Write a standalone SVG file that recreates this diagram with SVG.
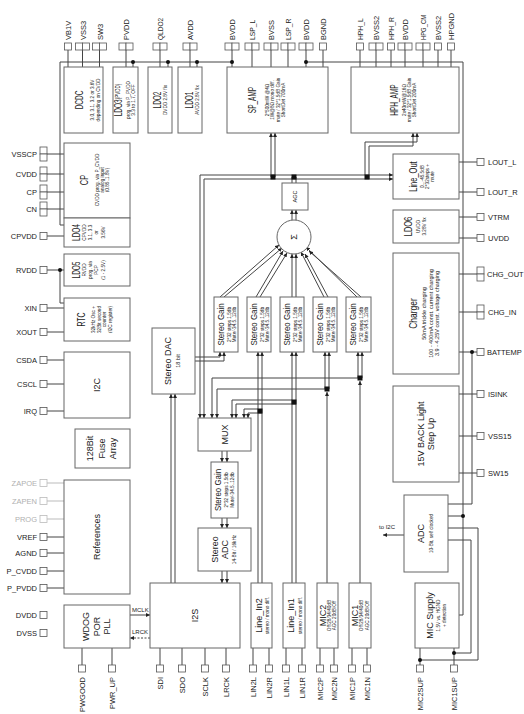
<svg xmlns="http://www.w3.org/2000/svg" width="524" height="714" viewBox="0 0 524 714">
<defs>
<marker id="ah" viewBox="0 0 6 6" refX="6" refY="3" markerWidth="4" markerHeight="4" orient="auto" markerUnits="userSpaceOnUse"><path d="M0,0L6,3L0,6z" fill="#222"/></marker>
</defs>
<style>
text{font-family:"Liberation Sans",Arial,sans-serif;fill:#1a1a1a}
.pl{font-size:7.5px}
.pe{font-size:7.5px;text-anchor:end}
.gr{fill:#b0b0b0}
.ti{font-size:10px;text-anchor:middle;dominant-baseline:central}
.tm{font-size:9px;text-anchor:middle;dominant-baseline:central}
.de{font-size:5.5px;text-anchor:middle;dominant-baseline:central}
.sm{font-size:6px}
.box{fill:#fff;stroke:#666;stroke-width:1}
.pin{fill:#fff;stroke:#555;stroke-width:0.8}
.pg{fill:#fff;stroke:#bbb;stroke-width:0.8}
.w{fill:none;stroke:#444;stroke-width:1}
.wg{fill:none;stroke:#bbb;stroke-width:1}
.a{marker-end:url(#ah)}
.d{fill:#111}
</style>
<rect width="524" height="714" fill="#fff"/>

<g id="connectors">
<path class="w" d="M60,62H232M60,62V225H64M306,62H463V615H459"/>
<path class="w" d="M68,50V67M82.5,50V67M99.5,50V67M126,50V67M133,62V67M160,50V67M168,62V67M190,50V67M197,62V67M232,50V67M252,50V67M271,50V67M288,50V67M306,50V67M323,50V67"/>
<path class="w" d="M360,50V67M376,50V67M391,50V67M405,50V67M423,50V67M438,50V67M451,50V67"/>
<circle class="d" cx="133" cy="62" r="2"/><circle class="d" cx="168" cy="62" r="2"/><circle class="d" cx="197" cy="62" r="2"/><circle class="d" cx="232" cy="62" r="2"/><circle class="d" cx="306" cy="62" r="2"/>
<path class="w" d="M47,154H64M47,174H64M47,192H64M47,209H64M47,236H64M47,270H64M60,270V303H64M47,308H64M47,332H64M47,360H64M47,384H64M47,411H64M47,537H64M47,553H64M47,571H64M47,588H64"/>
<path class="wg" d="M47,483H64M47,501H64M47,519H64"/>
<circle class="d" cx="60" cy="270" r="2"/>
<path class="w" d="M459,162H477M459,192H477M459,217H477M459,238H477M459,352H477M472,352V504H448M459,394H477M459,436H477M459,473H477"/>
<path class="w" d="M477,274H452V287H449V300M445,288V299M449,303H452V312H477"/>
<circle class="d" cx="472" cy="352" r="2"/><circle class="d" cx="449" cy="301" r="1.6"/>
<path class="w" d="M448,516H463M448,528H478V660H420M448,540H471V653H454M420,648V665M454,648V665"/>
<circle class="d" cx="463" cy="516" r="2"/><circle class="d" cx="420" cy="660" r="2"/><circle class="d" cx="454" cy="653" r="2"/>
<path class="w a" d="M404,535H383"/>
<text class="sm" x="379" y="529">to I2C</text>
<path class="w" d="M82,648V665M112,648V665M160,648V665M182,648V665M205,648V665M226,648V665M253,648V665M269,648V665M286,648V665M302,648V665M320,648V665M334,648V665M352,648V665M367,648V665"/>
<path class="w a" d="M130,615H150"/>
<path class="w a" d="M150,638H130" stroke-dasharray="2,1.5"/>
<text class="sm" x="132" y="612">MCLK</text>
<text class="sm" x="132" y="634">LRCK</text>
<path class="w a" d="M273,175H200V418"/>
<path class="w a" d="M273,179H204V418"/>
<path class="w a" d="M273,175H393"/>
<path class="w a" d="M273,179H393"/>
<path class="w a" d="M271,177V133"/>
<path class="w a" d="M275,177V133"/>
<path class="w" d="M292,177V183M296,177V183"/>
<path class="w a" d="M365,175V142H417V133"/>
<path class="w a" d="M369,179V146H413V133"/>
<rect class="d" x="270.5" y="174.5" width="5" height="5"/>
<rect class="d" x="291.5" y="174.5" width="5" height="5"/>
<rect class="d" x="364.5" y="174.5" width="5" height="5"/>
<path class="w a" d="M292,220V210"/>
<path class="w a" d="M296,220V210"/>
<path class="w a" d="M220,297L279,245"/>
<path class="w a" d="M224,297L282,248"/>
<path class="w a" d="M256,297L283,251"/>
<path class="w a" d="M260,297L287,253"/>
<path class="w a" d="M292,297V254"/>
<path class="w a" d="M296,297V254"/>
<path class="w a" d="M324,297L301,252"/>
<path class="w a" d="M328,297L305,254"/>
<path class="w a" d="M357,297L306,247"/>
<path class="w a" d="M361,297L309,251"/>
<path class="w a" d="M195,357H220V352"/>
<path class="w a" d="M195,361H224V352"/>
<path class="w a" d="M171,583V394"/>
<path class="w a" d="M175,583V394"/>
<path class="w a" d="M258,583V352"/>
<path class="w a" d="M262,583V352"/>
<path class="w a" d="M292,583V352"/>
<path class="w a" d="M296,583V352"/>
<path class="w a" d="M327,583V392"/>
<path class="w a" d="M325,389V352"/>
<path class="w a" d="M329,389V352"/>
<path class="w a" d="M360,583V381"/>
<path class="w a" d="M358,378V352"/>
<path class="w a" d="M362,378V352"/>
<path class="w a" d="M258,409H244V418"/>
<path class="w a" d="M262,413H248V418"/>
<path class="w a" d="M292,400H232V418"/>
<path class="w a" d="M296,404H236V418"/>
<path class="w a" d="M327,389H217V418"/>
<path class="w a" d="M360,378H212V418"/>
<rect class="d" x="257.5" y="408.5" width="5" height="5"/>
<rect class="d" x="291.5" y="399.5" width="5" height="5"/>
<rect class="d" x="324.5" y="386.5" width="5" height="5"/>
<rect class="d" x="357.5" y="375.5" width="5" height="5"/>
<path class="w a" d="M222,451V462"/>
<path class="w a" d="M227,451V462"/>
<path class="w a" d="M222,518V528"/>
<path class="w a" d="M227,518V528"/>
<path class="w a" d="M222,571V583"/>
<path class="w a" d="M227,571V583"/>
</g>

<g id="pin-VB1V"><rect class="pin" x="64.5" y="43" width="7" height="7"/><text class="pl" transform="translate(71,40) rotate(-90)">VB1V</text></g>
<g id="pin-VSS3"><rect class="pin" x="75.5" y="43" width="7" height="7"/><rect class="pin" x="82.5" y="43" width="7" height="7"/><text class="pl" transform="translate(85.5,40) rotate(-90)">VSS3</text></g>
<g id="pin-SW3"><rect class="pin" x="92.5" y="43" width="7" height="7"/><rect class="pin" x="99.5" y="43" width="7" height="7"/><text class="pl" transform="translate(102.5,40) rotate(-90)">SW3</text></g>
<g id="pin-PVDD"><rect class="pin" x="119" y="43" width="7" height="7"/><rect class="pin" x="126" y="43" width="7" height="7"/><text class="pl" transform="translate(129,40) rotate(-90)">PVDD</text></g>
<g id="pin-QLDO2"><rect class="pin" x="153" y="43" width="7" height="7"/><rect class="pin" x="160" y="43" width="7" height="7"/><text class="pl" transform="translate(163,40) rotate(-90) scale(.87,1)">QLDO2</text></g>
<g id="pin-AVDD"><rect class="pin" x="183" y="43" width="7" height="7"/><rect class="pin" x="190" y="43" width="7" height="7"/><text class="pl" transform="translate(193,40) rotate(-90)">AVDD</text></g>
<g id="pin-BVDD-1"><rect class="pin" x="225" y="43" width="7" height="7"/><rect class="pin" x="232" y="43" width="7" height="7"/><text class="pl" transform="translate(235,40) rotate(-90)">BVDD</text></g>
<g id="pin-LSP_L"><rect class="pin" x="245" y="43" width="7" height="7"/><rect class="pin" x="252" y="43" width="7" height="7"/><text class="pl" transform="translate(255,40) rotate(-90) scale(.9,1)">LSP_L</text></g>
<g id="pin-BVSS"><rect class="pin" x="264" y="43" width="7" height="7"/><rect class="pin" x="271" y="43" width="7" height="7"/><text class="pl" transform="translate(274,40) rotate(-90)">BVSS</text></g>
<g id="pin-LSP_R"><rect class="pin" x="281" y="43" width="7" height="7"/><rect class="pin" x="288" y="43" width="7" height="7"/><text class="pl" transform="translate(291,40) rotate(-90) scale(.9,1)">LSP_R</text></g>
<g id="pin-BVDD-2"><rect class="pin" x="299" y="43" width="7" height="7"/><rect class="pin" x="306" y="43" width="7" height="7"/><text class="pl" transform="translate(309,40) rotate(-90)">BVDD</text></g>
<g id="pin-BGND"><rect class="pin" x="319.5" y="43" width="7" height="7"/><text class="pl" transform="translate(326,40) rotate(-90)">BGND</text></g>
<g id="pin-HPH_L"><rect class="pin" x="356.5" y="43" width="7" height="7"/><text class="pl" transform="translate(363,40) rotate(-90) scale(.9,1)">HPH_L</text></g>
<g id="pin-BVSS2-1"><rect class="pin" x="369" y="43" width="7" height="7"/><rect class="pin" x="376" y="43" width="7" height="7"/><text class="pl" transform="translate(379,40) rotate(-90)">BVSS2</text></g>
<g id="pin-HPH_R"><rect class="pin" x="387.5" y="43" width="7" height="7"/><text class="pl" transform="translate(394,40) rotate(-90) scale(.9,1)">HPH_R</text></g>
<g id="pin-BVDD-3"><rect class="pin" x="398" y="43" width="7" height="7"/><rect class="pin" x="405" y="43" width="7" height="7"/><text class="pl" transform="translate(408,40) rotate(-90)">BVDD</text></g>
<g id="pin-HPG_CM"><rect class="pin" x="416" y="43" width="7" height="7"/><rect class="pin" x="423" y="43" width="7" height="7"/><text class="pl" transform="translate(426,40) rotate(-90) scale(.78,1)">HPG_CM</text></g>
<g id="pin-BVSS2-2"><rect class="pin" x="434.5" y="43" width="7" height="7"/><text class="pl" transform="translate(441,40) rotate(-90)">BVSS2</text></g>
<g id="pin-HPGND"><rect class="pin" x="447.5" y="43" width="7" height="7"/><text class="pl" transform="translate(454,40) rotate(-90)">HPGND</text></g>

<g id="pin-VSSCP"><rect class="pin" x="40" y="147" width="7" height="7"/><rect class="pin" x="40" y="154" width="7" height="7"/><text class="pe" x="37" y="157">VSSCP</text></g>
<g id="pin-CVDD"><rect class="pin" x="40" y="167" width="7" height="7"/><rect class="pin" x="40" y="174" width="7" height="7"/><text class="pe" x="37" y="177">CVDD</text></g>
<g id="pin-CP"><rect class="pin" x="40" y="185" width="7" height="7"/><rect class="pin" x="40" y="192" width="7" height="7"/><text class="pe" x="37" y="195">CP</text></g>
<g id="pin-CN"><rect class="pin" x="40" y="202" width="7" height="7"/><rect class="pin" x="40" y="209" width="7" height="7"/><text class="pe" x="37" y="212">CN</text></g>
<g id="pin-CPVDD"><rect class="pin" x="40" y="232.5" width="7" height="7"/><text class="pe" x="37" y="239">CPVDD</text></g>
<g id="pin-RVDD"><rect class="pin" x="40" y="266.5" width="7" height="7"/><text class="pe" x="37" y="273">RVDD</text></g>
<g id="pin-XIN"><rect class="pin" x="40" y="304.5" width="7" height="7"/><text class="pe" x="37" y="311">XIN</text></g>
<g id="pin-XOUT"><rect class="pin" x="40" y="328.5" width="7" height="7"/><text class="pe" x="37" y="335">XOUT</text></g>
<g id="pin-CSDA"><rect class="pin" x="40" y="356.5" width="7" height="7"/><text class="pe" x="37" y="363">CSDA</text></g>
<g id="pin-CSCL"><rect class="pin" x="40" y="380.5" width="7" height="7"/><text class="pe" x="37" y="387">CSCL</text></g>
<g id="pin-IRQ"><rect class="pin" x="40" y="407.5" width="7" height="7"/><text class="pe" x="37" y="414">IRQ</text></g>
<g id="pin-ZAPOE"><rect class="pg" x="40" y="479.5" width="7" height="7"/><text class="pe gr" x="37" y="486">ZAPOE</text></g>
<g id="pin-ZAPEN"><rect class="pg" x="40" y="497.5" width="7" height="7"/><text class="pe gr" x="37" y="504">ZAPEN</text></g>
<g id="pin-PROG"><rect class="pg" x="40" y="515.5" width="7" height="7"/><text class="pe gr" x="37" y="522">PROG</text></g>
<g id="pin-VREF"><rect class="pin" x="40" y="533.5" width="7" height="7"/><text class="pe" x="37" y="540">VREF</text></g>
<g id="pin-AGND"><rect class="pin" x="40" y="549.5" width="7" height="7"/><text class="pe" x="37" y="556">AGND</text></g>
<g id="pin-P_CVDD"><rect class="pin" x="40" y="567.5" width="7" height="7"/><text class="pe" x="37" y="574">P_CVDD</text></g>
<g id="pin-P_PVDD"><rect class="pin" x="40" y="584.5" width="7" height="7"/><text class="pe" x="37" y="591">P_PVDD</text></g>
<g id="pin-DVDD"><rect class="pin" x="40" y="611.5" width="7" height="7"/><text class="pe" x="37" y="618">DVDD</text></g>
<g id="pin-DVSS"><rect class="pin" x="40" y="629.5" width="7" height="7"/><text class="pe" x="37" y="636">DVSS</text></g>

<g id="pin-LOUT_L"><rect class="pin" x="477" y="158.5" width="7" height="7"/><text class="pl" x="488" y="165">LOUT_L</text></g>
<g id="pin-LOUT_R"><rect class="pin" x="477" y="188.5" width="7" height="7"/><text class="pl" x="488" y="195">LOUT_R</text></g>
<g id="pin-VTRM"><rect class="pin" x="477" y="213.5" width="7" height="7"/><text class="pl" x="488" y="220">VTRM</text></g>
<g id="pin-UVDD"><rect class="pin" x="477" y="234.5" width="7" height="7"/><text class="pl" x="488" y="241">UVDD</text></g>
<g id="pin-CHG_OUT"><rect class="pin" x="477" y="267" width="7" height="7"/><rect class="pin" x="477" y="274" width="7" height="7"/><text class="pl" x="487" y="277" font-size="7.2">CHG_OUT</text></g>
<g id="pin-CHG_IN"><rect class="pin" x="477" y="305" width="7" height="7"/><rect class="pin" x="477" y="312" width="7" height="7"/><text class="pl" x="488" y="315">CHG_IN</text></g>
<g id="pin-BATTEMP"><rect class="pin" x="477" y="348.5" width="7" height="7"/><text class="pl" x="487" y="355" font-size="7.2">BATTEMP</text></g>
<g id="pin-ISINK"><rect class="pin" x="477" y="390.5" width="7" height="7"/><text class="pl" x="488" y="397">ISINK</text></g>
<g id="pin-VSS15"><rect class="pin" x="477" y="432.5" width="7" height="7"/><text class="pl" x="488" y="439">VSS15</text></g>
<g id="pin-SW15"><rect class="pin" x="477" y="469.5" width="7" height="7"/><text class="pl" x="488" y="476">SW15</text></g>

<g id="pin-PWGOOD"><rect class="pin" x="78.5" y="665" width="7" height="7"/><text class="pe" transform="translate(85,677) rotate(-90)">PWGOOD</text></g>
<g id="pin-PWR_UP"><rect class="pin" x="108.5" y="665" width="7" height="7"/><text class="pe" transform="translate(115,677) rotate(-90)">PWR_UP</text></g>
<g id="pin-SDI"><rect class="pin" x="156.5" y="665" width="7" height="7"/><text class="pe" transform="translate(163,677) rotate(-90)">SDI</text></g>
<g id="pin-SDO"><rect class="pin" x="178.5" y="665" width="7" height="7"/><text class="pe" transform="translate(185,677) rotate(-90)">SDO</text></g>
<g id="pin-SCLK"><rect class="pin" x="201.5" y="665" width="7" height="7"/><text class="pe" transform="translate(208,677) rotate(-90)">SCLK</text></g>
<g id="pin-LRCK"><rect class="pin" x="222.5" y="665" width="7" height="7"/><text class="pe" transform="translate(229,677) rotate(-90)">LRCK</text></g>
<g id="pin-LIN2L"><rect class="pin" x="249.5" y="665" width="7" height="7"/><text class="pe" transform="translate(256,677) rotate(-90)">LIN2L</text></g>
<g id="pin-LIN2R"><rect class="pin" x="265.5" y="665" width="7" height="7"/><text class="pe" transform="translate(272,677) rotate(-90)">LIN2R</text></g>
<g id="pin-LIN1L"><rect class="pin" x="282.5" y="665" width="7" height="7"/><text class="pe" transform="translate(289,677) rotate(-90)">LIN1L</text></g>
<g id="pin-LIN1R"><rect class="pin" x="298.5" y="665" width="7" height="7"/><text class="pe" transform="translate(305,677) rotate(-90)">LIN1R</text></g>
<g id="pin-MIC2P"><rect class="pin" x="316.5" y="665" width="7" height="7"/><text class="pe" transform="translate(323,677) rotate(-90)">MIC2P</text></g>
<g id="pin-MIC2N"><rect class="pin" x="330.5" y="665" width="7" height="7"/><text class="pe" transform="translate(337,677) rotate(-90)">MIC2N</text></g>
<g id="pin-MIC1P"><rect class="pin" x="348.5" y="665" width="7" height="7"/><text class="pe" transform="translate(355,677) rotate(-90)">MIC1P</text></g>
<g id="pin-MIC1N"><rect class="pin" x="363.5" y="665" width="7" height="7"/><text class="pe" transform="translate(370,677) rotate(-90)">MIC1N</text></g>
<g id="pin-MIC2SUP"><rect class="pin" x="416.5" y="665" width="7" height="7"/><text class="pe" transform="translate(423,677) rotate(-90)">MIC2SUP</text></g>
<g id="pin-MIC1SUP"><rect class="pin" x="450.5" y="665" width="7" height="7"/><text class="pe" transform="translate(457,677) rotate(-90)">MIC1SUP</text></g>

<g id="DCDC"><rect class="box" x="64" y="67" width="39" height="66"/>
<text class="ti" transform="translate(79,100) rotate(-90) scale(.65,1)">DCDC</text>
<text class="de" transform="translate(92,100) rotate(-90) scale(.85,1)">3.0, 3.1, 3.2 or 3.6V</text>
<text class="de" transform="translate(97.5,100) rotate(-90) scale(.85,1)">depending on CVDD</text></g>
<g id="LDO3"><rect class="box" x="113" y="67" width="25" height="66"/>
<text class="ti" transform="translate(118,100) rotate(-90) scale(.65,1)">LDO3<tspan font-size="7">(PVDD)</tspan></text>
<text class="de" transform="translate(127.5,100) rotate(-90) scale(.85,1)">prog. via P_PVDD</text>
<text class="de" transform="translate(133,100) rotate(-90) scale(.85,1)">3.3 to 1.7, OFF</text></g>
<g id="LDO2"><rect class="box" x="148" y="67" width="24" height="66"/>
<text class="ti" transform="translate(157,100) rotate(-90) scale(.65,1)">LDO2</text>
<text class="de" transform="translate(165,100) rotate(-90) scale(.85,1)">DVDD 2.8V fix</text></g>
<g id="LDO1"><rect class="box" x="178" y="67" width="24" height="66"/>
<text class="ti" transform="translate(189,100) rotate(-90) scale(.65,1)">LDO1</text>
<text class="de" transform="translate(197,100) rotate(-90) scale(.85,1)">AVDD 2.8V fix</text></g>
<g id="SP_AMP"><rect class="box" x="227" y="67" width="101" height="66"/>
<text class="ti" transform="translate(252,100) rotate(-90) scale(.65,1)">SP_AMP</text>
<text class="de" transform="translate(266.5,100) rotate(-90) scale(.85,1)">2*500mW @4Ω</text>
<text class="de" transform="translate(272,100) rotate(-90) scale(.85,1)">1W@8Ω mono diff.</text>
<text class="de" transform="translate(277.5,100) rotate(-90) scale(.85,1)">mute / 32*1.5dB Gain</text>
<text class="de" transform="translate(283,100) rotate(-90) scale(.85,1)">ShortDet 700mA</text></g>
<g id="HPH_AMP"><rect class="box" x="351" y="67" width="108" height="66"/>
<text class="ti" transform="translate(394,100) rotate(-90) scale(.65,1)">HPH_AMP</text>
<text class="de" transform="translate(404,100) rotate(-90) scale(.85,1)">2x40mW@16Ω</text>
<text class="de" transform="translate(409,100) rotate(-90) scale(.85,1)">mute / 32*1.5dB Gain</text>
<text class="de" transform="translate(414,100) rotate(-90) scale(.85,1)">ShortDet 200mA</text></g>
<g id="CP"><rect class="box" x="64" y="143" width="66" height="75"/>
<text class="ti" transform="translate(85,180) rotate(-90) scale(.75,1)">CP</text>
<text class="de" transform="translate(97,180) rotate(-90) scale(.85,1)">CVDD prog. via P_CVDD</text>
<text class="de" transform="translate(102,180) rotate(-90) scale(.85,1)">analog input</text>
<text class="de" transform="translate(107,180) rotate(-90) scale(.85,1)">(0.85..1.8V)</text></g>
<g id="LDO4"><rect class="box" x="64" y="218" width="66" height="29"/>
<text class="ti" transform="translate(76,232.5) rotate(-90) scale(.65,1)">LDO4</text>
<text class="de" transform="translate(83.5,232.5) rotate(-90) scale(.85,1)">CPVDD</text>
<text class="de" transform="translate(90,232.5) rotate(-90) scale(.85,1)">3.1, 3.3</text>
<text class="de" transform="translate(96,232.5) rotate(-90) scale(.85,1)">or</text>
<text class="de" transform="translate(102.5,232.5) rotate(-90) scale(.85,1)">3.56V</text></g>
<g id="LDO5"><rect class="box" x="64" y="254" width="66" height="32"/>
<text class="ti" transform="translate(76,270) rotate(-90) scale(.65,1)">LDO5</text>
<text class="de" transform="translate(84,270) rotate(-90) scale(.85,1)">RVDD</text>
<text class="de" transform="translate(90,270) rotate(-90) scale(.85,1)">prog. via</text>
<text class="de" transform="translate(96,270) rotate(-90) scale(.85,1)">PCP</text>
<text class="de" transform="translate(103,270) rotate(-90) scale(.85,1)">(1 - 2.5V)</text></g>
<g id="RTC"><rect class="box" x="64" y="298" width="66" height="43"/>
<text class="ti" transform="translate(82,319.5) rotate(-90) scale(.7,1)">RTC</text>
<text class="de" transform="translate(93,319.5) rotate(-90) scale(.85,1)">32kHz Osc +</text>
<text class="de" transform="translate(98.5,319.5) rotate(-90) scale(.85,1)">32Bit second</text>
<text class="de" transform="translate(104,319.5) rotate(-90) scale(.85,1)">counter</text>
<text class="de" transform="translate(110,319.5) rotate(-90) scale(.85,1)">(I2C register)</text></g>
<g id="I2C"><rect class="box" x="64" y="352" width="66" height="66"/>
<text class="tm" transform="translate(97,385) rotate(-90)">I2C</text></g>
<g id="Fuse"><rect class="box" x="75" y="429" width="55" height="39"/>
<text class="tm" transform="translate(90,448.5) rotate(-90)">128Bit</text>
<text class="tm" transform="translate(102,448.5) rotate(-90)">Fuse</text>
<text class="tm" transform="translate(113,448.5) rotate(-90)">Array</text></g>
<g id="References"><rect class="box" x="64" y="480" width="66" height="114"/>
<text class="tm" transform="translate(97,537) rotate(-90)">References</text></g>
<g id="WDOG"><rect class="box" x="64" y="605" width="66" height="43"/>
<text class="tm" transform="translate(86,626.5) rotate(-90)">WDOG</text>
<text class="tm" transform="translate(97,626.5) rotate(-90)">POR</text>
<text class="tm" transform="translate(107,626.5) rotate(-90)">PLL</text></g>
<g id="I2S"><rect class="box" x="150" y="583" width="90" height="65"/>
<text class="tm" transform="translate(195,615.5) rotate(-90)">I2S</text></g>
<g id="Line_In2"><rect class="box" x="251" y="583" width="21" height="65"/>
<text class="tm" transform="translate(258.5,615.5) rotate(-90)">Line_In2</text>
<text class="de" transform="translate(266.5,615.5) rotate(-90) scale(.85,1)">stereo / mono diff.</text></g>
<g id="Line_In1"><rect class="box" x="283" y="583" width="22" height="65"/>
<text class="tm" transform="translate(291,615.5) rotate(-90)">Line_In1</text>
<text class="de" transform="translate(299.5,615.5) rotate(-90) scale(.85,1)">stereo / mono diff.</text></g>
<g id="MIC2"><rect class="box" x="317" y="583" width="21" height="65"/>
<text class="tm" transform="translate(322.5,615.5) rotate(-90)">MIC2</text>
<text class="de" transform="translate(329,615.5) rotate(-90) scale(.85,1)">Off/28/34/40dB</text>
<text class="de" transform="translate(334,615.5) rotate(-90) scale(.85,1)">AGC 20dB/Off</text></g>
<g id="MIC1"><rect class="box" x="349" y="583" width="22" height="65"/>
<text class="tm" transform="translate(354.5,615.5) rotate(-90)">MIC1</text>
<text class="de" transform="translate(361,615.5) rotate(-90) scale(.85,1)">Off/28/34/40dB</text>
<text class="de" transform="translate(366.5,615.5) rotate(-90) scale(.85,1)">AGC 20dB/Off</text></g>
<g id="MIC_Supply"><rect class="box" x="415" y="583" width="44" height="65"/>
<text class="tm" transform="translate(430,615.5) rotate(-90)">MIC Supply</text>
<text class="de" transform="translate(438,615.5) rotate(-90) scale(.85,1)">1.5V vs. HGND</text>
<text class="de" transform="translate(444,615.5) rotate(-90) scale(.85,1)">+ detection</text></g>
<g id="ADC"><rect class="box" x="404" y="495" width="44" height="77"/>
<text class="tm" transform="translate(421,533.5) rotate(-90)">ADC</text>
<text class="de" transform="translate(431,533.5) rotate(-90) scale(.85,1)">10-Bit, self clocked</text></g>
<g id="Backlight"><rect class="box" x="393" y="386" width="66" height="96"/>
<text class="tm" transform="translate(421,434) rotate(-90)">15V BACK Light</text>
<text class="tm" transform="translate(431,434) rotate(-90)">Step Up</text></g>
<g id="Charger"><rect class="box" x="393" y="253" width="66" height="121"/>
<text class="ti" transform="translate(414,313.5) rotate(-90) scale(.85,1)">Charger</text>
<text class="de" transform="translate(424,313.5) rotate(-90)">50mA trickle charging</text>
<text class="de" transform="translate(431,313.5) rotate(-90)">100 - 400mA const. current charging</text>
<text class="de" transform="translate(437,313.5) rotate(-90)">3.9 - 4.25V const. voltage charging</text></g>
<g id="LDO6"><rect class="box" x="393" y="210" width="66" height="33"/>
<text class="ti" transform="translate(409,226.5) rotate(-90) scale(.75,1)">LDO6</text>
<text class="de" transform="translate(418,226.5) rotate(-90) scale(.85,1)">UVDD</text>
<text class="de" transform="translate(424,226.5) rotate(-90) scale(.85,1)">3.28V fix</text></g>
<g id="Line_Out"><rect class="box" x="393" y="154" width="66" height="45"/>
<text class="ti" transform="translate(414,176.5) rotate(-90) scale(.75,1)">Line_Out</text>
<text class="de" transform="translate(422,176.5) rotate(-90) scale(.85,1)">0...-45.5dB</text>
<text class="de" transform="translate(427,176.5) rotate(-90) scale(.85,1)">2*32steps +</text>
<text class="de" transform="translate(432,176.5) rotate(-90) scale(.85,1)">mute</text></g>
<g id="Stereo_DAC"><rect class="box" x="152" y="328" width="43" height="66"/>
<text class="tm" transform="translate(168,361) rotate(-90)">Stereo DAC</text>
<text class="de" transform="translate(178,361) rotate(-90)">18 bit</text></g>
<g id="Gain1"><rect class="box" x="214" y="297" width="24" height="55"/>
<text class="tm" font-size="8.5" transform="translate(221,324.5) rotate(-90) scale(.88,1)">Stereo Gain</text>
<text class="de" transform="translate(228.5,324.5) rotate(-90) scale(.85,1)">2*32 steps 1.5db</text>
<text class="de" transform="translate(233.5,324.5) rotate(-90) scale(.85,1)">Mute/-34.5..12db</text></g>
<g id="Gain2"><rect class="box" x="247" y="297" width="24" height="55"/>
<text class="tm" font-size="8.5" transform="translate(254,324.5) rotate(-90) scale(.88,1)">Stereo Gain</text>
<text class="de" transform="translate(261.5,324.5) rotate(-90) scale(.85,1)">2*32 steps 1.5db</text>
<text class="de" transform="translate(266.5,324.5) rotate(-90) scale(.85,1)">Mute/-34.5..12db</text></g>
<g id="Gain3"><rect class="box" x="280" y="297" width="24" height="55"/>
<text class="tm" font-size="8.5" transform="translate(287,324.5) rotate(-90) scale(.88,1)">Stereo Gain</text>
<text class="de" transform="translate(294.5,324.5) rotate(-90) scale(.85,1)">2*32 steps 1.5db</text>
<text class="de" transform="translate(299.5,324.5) rotate(-90) scale(.85,1)">Mute/-34.5..12db</text></g>
<g id="Gain4"><rect class="box" x="313" y="297" width="24" height="55"/>
<text class="tm" font-size="8.5" transform="translate(320,324.5) rotate(-90) scale(.88,1)">Stereo Gain</text>
<text class="de" transform="translate(327.5,324.5) rotate(-90) scale(.85,1)">2*32 steps 1.5db</text>
<text class="de" transform="translate(332.5,324.5) rotate(-90) scale(.85,1)">Mute/-34.5..12db</text></g>
<g id="Gain5"><rect class="box" x="346" y="297" width="25" height="55"/>
<text class="tm" font-size="8.5" transform="translate(353,324.5) rotate(-90) scale(.88,1)">Stereo Gain</text>
<text class="de" transform="translate(360.5,324.5) rotate(-90) scale(.85,1)">2*32 steps 1.5db</text>
<text class="de" transform="translate(365.5,324.5) rotate(-90) scale(.85,1)">Mute/-34.5..12db</text></g>
<g id="Sum"><circle class="box" cx="294" cy="237" r="17"/>
<text class="tm" font-size="11" transform="translate(294,237) rotate(-90)">Σ</text></g>
<g id="AGC"><rect class="box" x="282" y="183" width="26" height="27"/>
<text class="de" font-size="6.5" transform="translate(295,196.5) rotate(-90)">AGC</text></g>
<g id="MUX"><rect class="box" x="198" y="418" width="53" height="33"/>
<text class="tm" transform="translate(225,434.5) rotate(-90)">MUX</text></g>
<g id="Gain_Rec"><rect class="box" x="211" y="462" width="27" height="56"/>
<text class="tm" font-size="8.5" transform="translate(218,490) rotate(-90) scale(.88,1)">Stereo Gain</text>
<text class="de" transform="translate(226,490) rotate(-90) scale(.85,1)">2*32 steps 1.5db</text>
<text class="de" transform="translate(231.5,490) rotate(-90) scale(.85,1)">Mute/-34.5..12db</text></g>
<g id="Stereo_ADC"><rect class="box" x="198" y="528" width="53" height="43"/>
<text class="tm" transform="translate(215,549.5) rotate(-90)">Stereo</text>
<text class="tm" transform="translate(225,549.5) rotate(-90)">ADC</text>
<text class="de" transform="translate(234,549.5) rotate(-90) scale(.85,1)">14-Bit / 16kHz</text></g>
</svg>
